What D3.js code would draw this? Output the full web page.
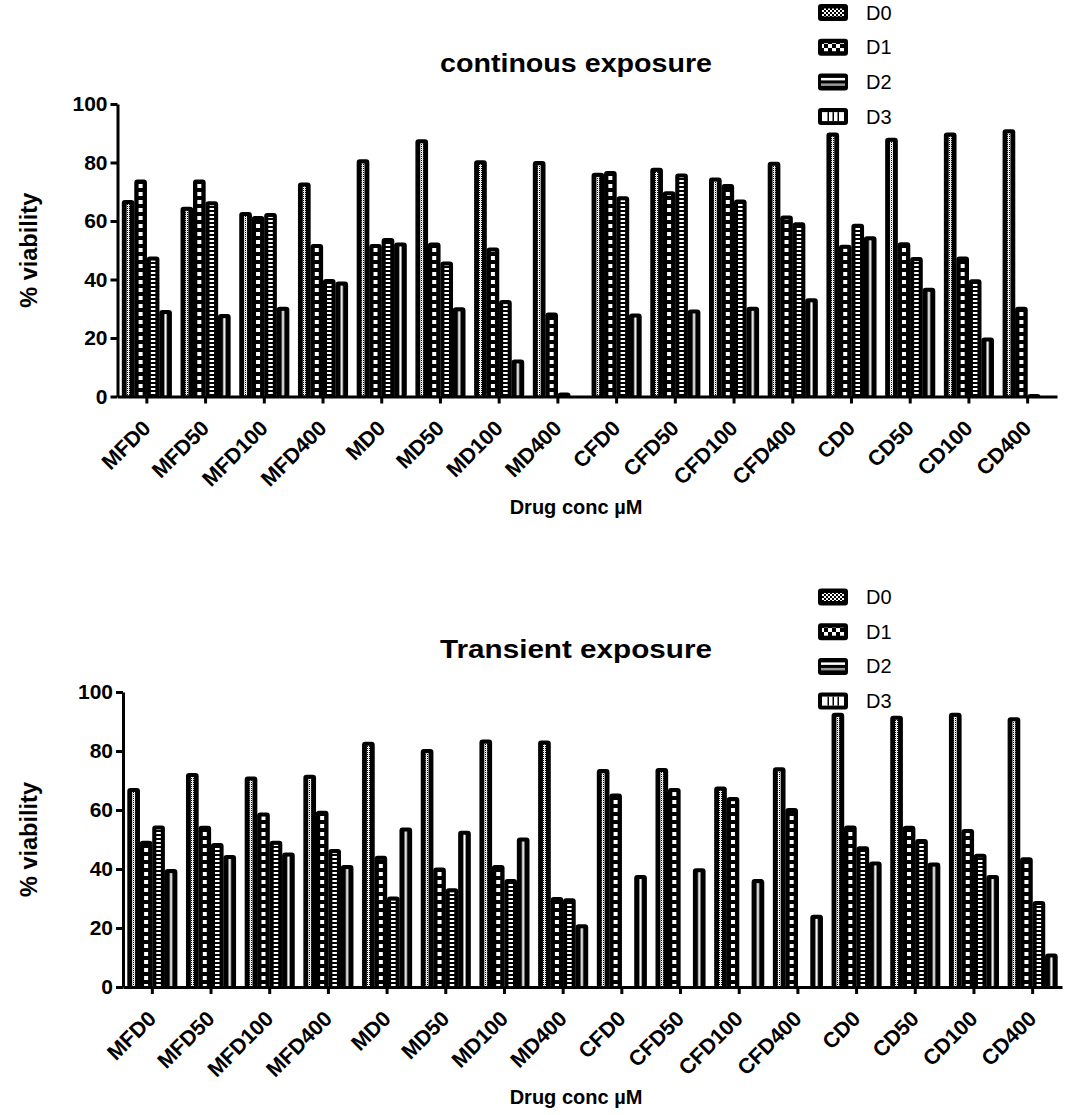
<!DOCTYPE html>
<html><head><meta charset="utf-8">
<script src="https://cdn.jsdelivr.net/npm/d3@7"></script>
<style>
html,body{margin:0;padding:0;background:#fff;}
text{font-family:"Liberation Sans",Arial,Helvetica,sans-serif;}
</style></head>
<body>
<svg id="chart" width="1072" height="1115"></svg>
<script>
const categories = ["MFD0","MFD50","MFD100","MFD400","MD0","MD50","MD100","MD400","CFD0","CFD50","CFD100","CFD400","CD0","CD50","CD100","CD400"];
const seriesNames = ["D0","D1","D2","D3"];
const yTicks = [0,20,40,60,80,100];

const contD0 = [66.8,64.5,62.7,72.8,80.7,87.6,80.4,80.1,76.1,77.8,74.5,79.9,89.9,88.1,89.9,91.0];
const contD1 = [73.8,73.8,61.3,51.8,51.8,52.3,50.6,28.3,76.7,69.8,72.3,61.5,51.5,52.4,47.5,30.3];
const contD2 = [47.5,66.4,62.4,39.8,53.8,45.8,32.6,1.0,68.1,75.9,67.0,59.2,58.7,47.3,39.7,0.5];
const contD3 = [29.2,27.8,30.3,38.9,52.3,30.1,12.3,0,28.0,29.4,30.3,33.2,54.4,36.8,19.8,0];

const transD0 = [67.1,72.2,71.0,71.6,82.8,80.3,83.5,83.2,73.5,73.9,67.6,74.1,92.6,91.6,92.6,91.1];
const transD1 = [49.2,54.3,58.8,59.4,44.1,40.1,41.0,30.1,65.2,67.1,64.0,60.3,54.4,54.3,53.2,43.6];
const transD2 = [54.4,48.4,49.2,46.4,30.3,33.1,36.2,29.7,0,0,0,0,47.3,49.8,44.8,28.8];
const transD3 = [39.6,44.4,45.2,41.0,53.7,52.6,50.3,20.9,37.6,39.9,36.2,24.1,42.2,41.8,37.6,11.0];

const svg = d3.select("#chart");
const defs = svg.append("defs");

function pat(id, w, h, draw){
  const p = defs.append("pattern").attr("id", id).attr("patternUnits","userSpaceOnUse")
    .attr("width", w).attr("height", h);
  p.append("rect").attr("width", w).attr("height", h).attr("fill","#000");
  draw(p);
}
pat("p0", 2, 2, p => { p.append("rect").attr("x",0).attr("y",0).attr("width",1).attr("height",1).attr("fill","#fff");
                      p.append("rect").attr("x",1).attr("y",1).attr("width",1).attr("height",1).attr("fill","#fff");
                      p.append("rect").attr("x",0).attr("y",1).attr("width",1).attr("height",1).attr("fill","#ddd"); });
pat("p1", 10, 8, p => { p.append("rect").attr("x",0).attr("y",0).attr("width",10).attr("height",4).attr("fill","#fff"); });
pat("p2", 10, 4, p => { p.append("rect").attr("x",0).attr("y",0).attr("width",10).attr("height",2).attr("fill","#fff"); });
pat("lc0", 4, 4, p => { p.append("rect").attr("x",0).attr("y",0).attr("width",2).attr("height",2).attr("fill","#fff");
                       p.append("rect").attr("x",2).attr("y",2).attr("width",2).attr("height",2).attr("fill","#fff"); });
pat("lc1", 8, 8, p => { p.append("rect").attr("x",0).attr("y",0).attr("width",4).attr("height",4).attr("fill","#fff");
                       p.append("rect").attr("x",4).attr("y",4).attr("width",4).attr("height",4).attr("fill","#fff"); });

const FONT_BOLD = 700;
const CENTER_X = 576;

function drawChart(cfg){
  const {values, xLeft, xRight, y0px, y100px, title, titleY, labelY, legendY} = cfg;
  const g = svg.append("g");
  const x = d3.scaleBand().domain(categories).range([xLeft, xRight]).paddingInner(0.15).paddingOuter(0.075);
  const xs = d3.scaleBand().domain(seriesNames).range([0, x.bandwidth()]);
  const y = d3.scaleLinear().domain([0,100]).range([y0px, y100px]);

  const rows = [];
  categories.forEach((c,i) => seriesNames.forEach((s,j) => rows.push({c, s, j, v: values[j][i]})));

  const bars = g.append("g").selectAll("g.bar").data(rows.filter(d => d.v > 0)).join("g").attr("class","bar");
  bars.append("rect")
    .attr("x", d => x(d.c) + xs(d.s) + 1)
    .attr("width", xs.bandwidth() - 2)
    .attr("y", d => y(d.v))
    .attr("height", d => Math.max(0.5, y(0) - y(d.v)))
    .attr("rx", 2).attr("ry", 2)
    .attr("fill", "#000").attr("stroke", "#000").attr("stroke-width", 2.2);
  const inner = bars.filter(d => y(0) - y(d.v) > 8);
  const stripW = [3, 4, 4.5, 3];
  const stripFill = ["url(#p0)", "url(#p1)", "url(#p2)", "#9a9a9a"];
  inner.append("rect")
    .attr("x", d => x(d.c) + xs(d.s) + xs.bandwidth()/2 - stripW[d.j]/2)
    .attr("width", d => stripW[d.j])
    .attr("y", d => y(d.v) + 3)
    .attr("height", d => y(0) - y(d.v) - 4)
    .attr("fill", d => stripFill[d.j]);
  inner.filter(d => d.j === 3).append("rect")
    .attr("x", d => x(d.c) + xs(d.s) + xs.bandwidth()/2 - 0.5)
    .attr("width", 1)
    .attr("y", d => y(d.v) + 3)
    .attr("height", d => y(0) - y(d.v) - 4)
    .attr("fill", "#fff");

  const ya = g.append("g").attr("transform", `translate(${xLeft},0)`)
    .call(d3.axisLeft(y).tickValues(yTicks).tickSize(7).tickSizeOuter(0).tickPadding(3));
  ya.select(".domain").attr("stroke","#000").attr("stroke-width",3);
  ya.selectAll(".tick line").attr("stroke","#000").attr("stroke-width",3);
  ya.selectAll(".tick text").attr("font-size",21).attr("font-weight",FONT_BOLD).attr("fill","#000")
    .attr("font-family","'Liberation Sans',Arial,sans-serif");

  const xa = g.append("g").attr("transform", `translate(0,${y0px})`)
    .call(d3.axisBottom(x).tickSize(7).tickSizeOuter(0).tickPadding(0));
  xa.select(".domain").attr("stroke","#000").attr("stroke-width",3);
  xa.selectAll(".tick line").attr("stroke","#000").attr("stroke-width",3);
  xa.selectAll(".tick text")
    .attr("font-size",21.5).attr("font-weight",FONT_BOLD).attr("fill","#000")
    .attr("font-family","'Liberation Sans',Arial,sans-serif")
    .attr("text-anchor","end").attr("dy",null).attr("y",null)
    .attr("transform","translate(5,33) rotate(-45)");

  g.append("text").attr("x", CENTER_X).attr("y", titleY).attr("text-anchor","middle")
    .attr("font-size",25).attr("font-weight",FONT_BOLD).attr("textLength",272).attr("lengthAdjust","spacingAndGlyphs").text(title);
  g.append("text").attr("x", CENTER_X).attr("y", labelY).attr("text-anchor","middle")
    .attr("font-size",20).attr("font-weight",FONT_BOLD).text("Drug conc µM");
  g.append("text").attr("transform", `translate(37,${(y0px+y100px)/2}) rotate(-90)`).attr("text-anchor","middle")
    .attr("font-size",23.5).attr("font-weight",FONT_BOLD).text("% viability");

  const lg = g.append("g");
  seriesNames.forEach((s,i) => {
    const cy = legendY + i*34.7;
    const sx = 818, sw = 30, sh = 17;
    lg.append("rect").attr("x",sx).attr("y",cy-sh/2).attr("width",sw).attr("height",sh).attr("rx",3).attr("fill","#000");
    if (i === 0) {
      lg.append("rect").attr("x",sx+4).attr("y",cy-4).attr("width",22).attr("height",8).attr("fill","url(#lc0)");
    } else if (i === 1) {
      lg.append("rect").attr("x",sx+4).attr("y",cy-4).attr("width",22).attr("height",8).attr("fill","url(#lc1)");
    } else if (i === 2) {
      lg.append("rect").attr("x",sx+3).attr("y",cy-4).attr("width",24).attr("height",2.5).attr("fill","#fff");
      lg.append("rect").attr("x",sx+3).attr("y",cy+1.5).attr("width",24).attr("height",2.5).attr("fill","#999");
    } else {
      lg.append("rect").attr("x",sx+4).attr("y",cy-4.5).attr("width",22).attr("height",9).attr("fill","#fff");
      [9.5,14.5,19.5].forEach(dx => lg.append("rect").attr("x",sx+dx).attr("y",cy-4.5).attr("width",1.5).attr("height",9).attr("fill","#000"));
    }
    lg.append("text").attr("x",866).attr("y",cy+7).attr("font-size",20).attr("fill","#000").text(s);
  });
}

drawChart({values:[contD0,contD1,contD2,contD3], xLeft:117.5, xRight:1057, y0px:396.5, y100px:104,
  title:"continous exposure", titleY:72, labelY:514, legendY:12.5});
drawChart({values:[transD0,transD1,transD2,transD3], xLeft:123, xRight:1062, y0px:987, y100px:692,
  title:"Transient exposure", titleY:658, labelY:1104, legendY:597});
</script>
</body></html>
